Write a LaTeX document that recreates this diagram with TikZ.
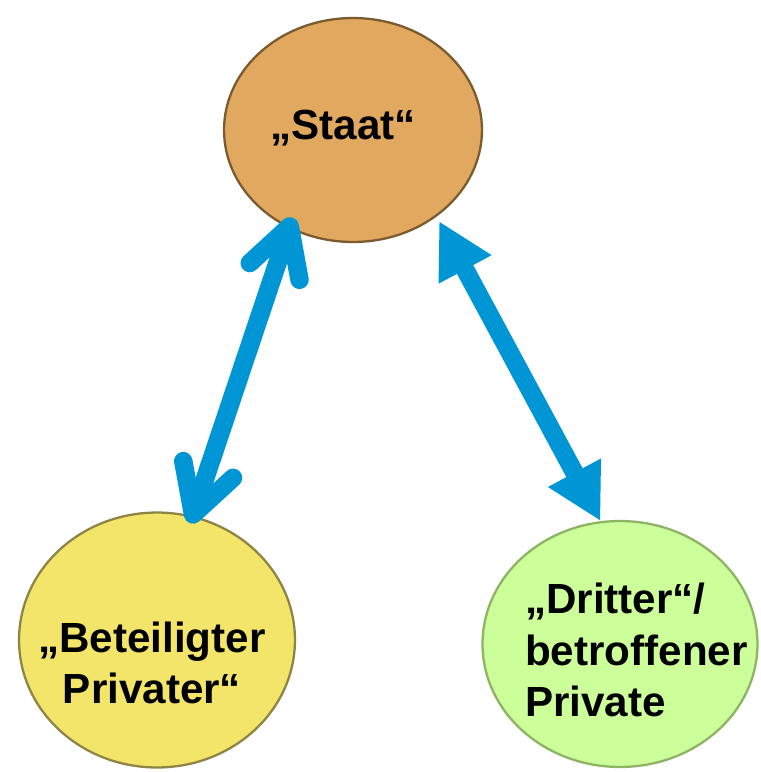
\documentclass[tikz,border=0pt]{standalone}
\usepackage{fontspec}
\setmainfont{Liberation Sans}
\usetikzlibrary{arrows.meta,shapes.geometric}
\definecolor{staatbraun}{HTML}{E1A95F}
\definecolor{staatrand}{HTML}{7B5A2E}
\definecolor{privgelb}{HTML}{F3E46A}
\definecolor{privrand}{HTML}{8E8545}
\definecolor{drittgruen}{HTML}{CCFF99}
\definecolor{drittrand}{HTML}{8DB365}
\definecolor{blau}{HTML}{0096D6}

\begin{document}
\begin{tikzpicture}[x=0.02cm,y=-0.02cm,
    kreis/.style={ellipse,inner sep=0pt,line width=1.3pt},
    schrift/.style={font=\bfseries\fontsize{24}{29.5}\selectfont},
    pfeil/.style={line width=0.37cm,draw=blau,fill=blau}]
  \useasboundingbox (0,0) rectangle (761,772);
  \node[kreis,fill=staatbraun,draw=staatrand,minimum width=5.16cm,minimum height=4.48cm] (staat) at (353,130) {};
  \node[kreis,fill=privgelb,draw=privrand,minimum width=5.52cm,minimum height=5.1cm] (beteiligt) at (157,640) {};
  \node[kreis,fill=drittgruen,draw=drittrand,minimum width=5.5cm,minimum height=4.92cm] (dritter) at (620,644) {};
  \node[schrift] (staatText) at (343,128) {„Staat“};
  \node[schrift,align=center] (beteiligtText) at (152,663) {„Beteiligter\\Privater“};
  \node[schrift,align=left,anchor=west] (dritterText) at (519,650) {„Dritter“/\\betroffener\\Private};
  \draw[pfeil,{Straight Barb[round,length=0.95cm,width=1.05cm]}-{Straight Barb[round,length=0.95cm,width=1.05cm]},
    shorten <=-0.16cm,shorten >=-0.23cm] (beteiligt.74) -- (staat.237);
  \draw[pfeil,{Triangle[length=1.1cm,width=1.12cm]}-{Triangle[length=1.1cm,width=1.12cm]},
    shorten <=0.1cm] (staat.314) -- (dritter.99);
\end{tikzpicture}
\end{document}
